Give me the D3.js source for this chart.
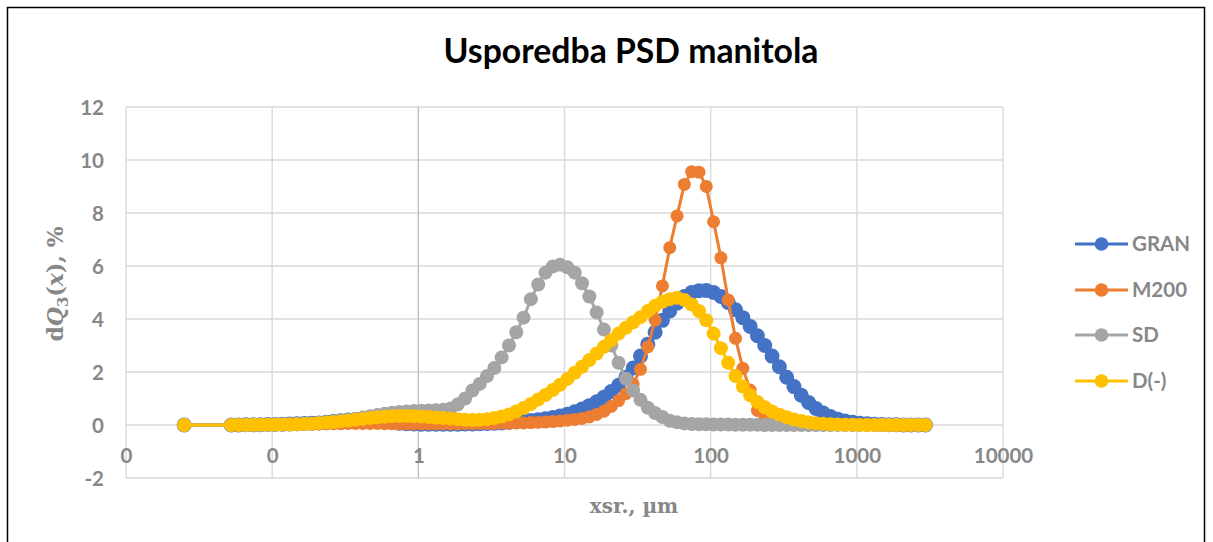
<!DOCTYPE html>
<html>
<head>
<meta charset="utf-8">
<script src="https://cdn.jsdelivr.net/npm/d3@7"></script>
<style>
  html, body { margin: 0; padding: 0; background: #fff; }
  svg { display: block; }
</style>
</head>
<body>
<svg id="chart" width="1213" height="542"></svg>
<script>
// ---------------- data ----------------
const xsr = [0.025,
  0.05248, 0.05888, 0.06607, 0.07413, 0.08318, 0.09333, 0.1047, 0.1175, 0.1318, 0.1479,
  0.1660, 0.1862, 0.2089, 0.2344, 0.2630, 0.2951, 0.3311, 0.3715, 0.4169, 0.4677,
  0.5248, 0.5888, 0.6607, 0.7413, 0.8318, 0.9333, 1.047, 1.175, 1.318, 1.479,
  1.660, 1.862, 2.089, 2.344, 2.630, 2.951, 3.311, 3.715, 4.169, 4.677,
  5.248, 5.888, 6.607, 7.413, 8.318, 9.333, 10.47, 11.75, 13.18, 14.79,
  16.60, 18.62, 20.89, 23.44, 26.30, 29.51, 33.11, 37.15, 41.69, 46.77,
  52.48, 58.88, 66.07, 74.13, 83.18, 93.33, 104.7, 117.5, 131.8, 147.9,
  166.0, 186.2, 208.9, 234.4, 263.0, 295.1, 331.1, 371.5, 416.9, 467.7,
  524.8, 588.8, 660.7, 741.3, 831.8, 933.3, 1047, 1175, 1318, 1479,
  1660, 1862, 2089, 2344, 2630, 2951];

const gran = [0,
  0, 0, 0.01, 0.01, 0.01, 0.02, 0.02, 0.03, 0.04, 0.05, 0.06, 0.07,
  0.08, 0.10, 0.13, 0.16, 0.19, 0.21, 0.22, 0.21, 0.18, 0.14, 0.10, 0.07,
  0.05, 0.04, 0.03, 0.03, 0.03, 0.03, 0.03, 0.03, 0.04, 0.04, 0.05, 0.06,
  0.07, 0.08, 0.10, 0.12, 0.14, 0.17, 0.20, 0.24, 0.28, 0.34, 0.41, 0.50,
  0.60, 0.73, 0.88, 1.05, 1.26, 1.50, 1.80, 2.15, 2.60, 3.05, 3.50, 3.95,
  4.30, 4.60, 4.85, 5.00, 5.07, 5.08, 5.00, 4.85, 4.62, 4.35, 4.05, 3.72,
  3.37, 3.00, 2.60, 2.20, 1.80, 1.45, 1.12, 0.85, 0.62, 0.45, 0.32, 0.22,
  0.15, 0.10, 0.07, 0.05, 0.03, 0.02, 0.01, 0.01, 0, 0, 0, 0];

const m200 = [0,
  0, 0, 0, 0.01, 0.01, 0.01, 0.01, 0.02, 0.02, 0.02, 0.03, 0.03,
  0.04, 0.04, 0.05, 0.05, 0.06, 0.06, 0.06, 0.06, 0.06, 0.05, 0.05, 0.04,
  0.04, 0.04, 0.04, 0.04, 0.04, 0.04, 0.04, 0.04, 0.05, 0.05, 0.05, 0.06,
  0.06, 0.07, 0.07, 0.08, 0.08, 0.09, 0.10, 0.11, 0.13, 0.15, 0.18, 0.21,
  0.25, 0.31, 0.40, 0.52, 0.70, 0.92, 1.18, 1.55, 2.10, 2.95, 3.96, 5.25,
  6.69, 7.89, 9.08, 9.56, 9.54, 9.00, 7.67, 6.31, 4.72, 3.27, 2.14, 1.32,
  0.55, 0.22, 0.08, 0.03, 0.01, 0, 0, 0, 0, 0, 0, 0,
  0, 0, 0, 0, 0, 0, 0, 0, 0, 0, 0, 0];

const sd = [0,
  0, 0, 0.01, 0.01, 0.01, 0.02, 0.02, 0.03, 0.03, 0.04, 0.05, 0.06,
  0.08, 0.10, 0.12, 0.15, 0.19, 0.23, 0.28, 0.33, 0.38, 0.42, 0.46, 0.49,
  0.51, 0.53, 0.54, 0.55, 0.56, 0.58, 0.62, 0.78, 1.00, 1.30, 1.55, 1.85,
  2.15, 2.55, 3.00, 3.50, 4.05, 4.75, 5.30, 5.75, 5.98, 6.05, 5.95, 5.75,
  5.35, 4.85, 4.25, 3.60, 3.00, 2.35, 1.75, 1.30, 0.95, 0.65, 0.45, 0.30,
  0.16, 0.10, 0.06, 0.04, 0.03, 0.03, 0.02, 0.02, 0.02, 0.01, 0.01, 0.01,
  0.01, 0, 0, 0, 0, 0, 0, 0, 0, 0, 0, 0,
  0, 0, 0, 0, 0, 0, 0, 0, 0, 0, 0, 0];

const dminus = [0,
  0, 0, 0, 0.01, 0.01, 0.01, 0.01, 0.02, 0.02, 0.03, 0.04, 0.05,
  0.07, 0.09, 0.11, 0.14, 0.17, 0.20, 0.23, 0.26, 0.29, 0.31, 0.33, 0.34,
  0.34, 0.33, 0.32, 0.30, 0.28, 0.26, 0.24, 0.22, 0.20, 0.19, 0.20, 0.22,
  0.26, 0.32, 0.40, 0.51, 0.64, 0.79, 0.96, 1.13, 1.32, 1.52, 1.74, 1.97,
  2.20, 2.45, 2.70, 2.95, 3.20, 3.45, 3.67, 3.88, 4.07, 4.30, 4.50, 4.65,
  4.75, 4.80, 4.72, 4.55, 4.30, 3.95, 3.45, 2.90, 2.35, 1.85, 1.45, 1.12,
  0.87, 0.67, 0.51, 0.39, 0.29, 0.21, 0.15, 0.10, 0.07, 0.05, 0.03, 0.02,
  0.01, 0.01, 0, 0, 0, 0, 0, 0, 0, 0, 0, 0];

const seriesNames = ["GRAN", "M200", "SD", "D(-)"];
const seriesColors = ["#4472C4", "#ED7D31", "#A5A5A5", "#FFC000"];
const seriesValues = [gran, m200, sd, dminus];

const xTickValues = [0.01, 0.1, 1, 10, 100, 1000, 10000];
const xTickLabels = ["0", "0", "1", "10", "100", "1000", "10000"];
const yTickValues = [-2, 0, 2, 4, 6, 8, 10, 12];

const titleText = "Usporedba PSD manitola";
const xTitleText = "xsr., \u00B5m";

// ---------------- drawing ----------------
const svg = d3.select("#chart");
svg.append("rect").attr("width", 1213).attr("height", 542).attr("fill", "#fff");
svg.append("rect").attr("x", 7.5).attr("y", 7.5).attr("width", 1197).attr("height", 600)
  .attr("fill", "none").attr("stroke", "#000").attr("stroke-width", 1.5);

const x = d3.scaleLog().domain([0.01, 10000]).range([126, 1003]);
const y = d3.scaleLinear().domain([-2, 12]).range([478, 107]);

const textGray = "#878787";
const gridCol = "#d9d9d9";

// grid
const grid = svg.append("g");
grid.selectAll("line.h").data(yTickValues).join("line")
  .attr("x1", x(0.01)).attr("x2", x(10000))
  .attr("y1", d => y(d)).attr("y2", d => y(d))
  .attr("stroke", gridCol).attr("stroke-width", 1.4);
grid.selectAll("line.v").data(xTickValues).join("line")
  .attr("x1", d => x(d)).attr("x2", d => x(d))
  .attr("y1", y(12)).attr("y2", y(-2))
  .attr("stroke", d => d === 1 ? "#bfbfbf" : gridCol).attr("stroke-width", 1.4);

// axes labels via d3 axes (lines hidden)
const yAxis = svg.append("g").attr("transform", "translate(104,0)")
  .call(d3.axisLeft(y).tickValues(yTickValues).tickSize(0).tickPadding(0).tickFormat(d => String(d)));
yAxis.select(".domain").remove();
yAxis.selectAll("text").attr("font-family", "Lato, 'Open Sans', sans-serif").attr("font-weight", "bold")
  .attr("font-size", 20.5).attr("fill", textGray).attr("dy", "0.35em");

const xAxis = svg.append("g").attr("transform", `translate(0,${y(0)})`)
  .call(d3.axisBottom(x).tickValues(xTickValues).tickSize(0).tickPadding(0)
    .tickFormat((d, i) => xTickLabels[i]));
xAxis.select(".domain").remove();
xAxis.selectAll("text").attr("font-family", "Lato, 'Open Sans', sans-serif").attr("font-weight", "bold")
  .attr("font-size", 20.5).attr("fill", textGray).attr("dy", null).attr("y", 38);

// title
const title = svg.append("text").attr("x", 631).attr("y", 63).attr("text-anchor", "middle")
  .attr("font-family", "Lato, 'Open Sans', sans-serif").attr("font-weight", "bold")
  .attr("font-size", 33).attr("fill", "#000").text(titleText);
(function fit(t, w) {
  const len = t.node().getComputedTextLength();
  const fs = +t.attr("font-size");
  t.attr("font-size", fs * w / len);
})(title, 375);

// y axis title
const yt = svg.append("text").attr("transform", "translate(63,284) rotate(-90)")
  .attr("text-anchor", "middle").attr("font-family", "'DejaVu Serif', serif")
  .attr("font-weight", "bold").attr("font-size", 22).attr("fill", textGray);
yt.append("tspan").text("d");
yt.append("tspan").attr("font-style", "italic").text("Q");
yt.append("tspan").attr("font-size", 15).attr("dy", 5).text("3");
yt.append("tspan").attr("dy", -5).text("(");
yt.append("tspan").attr("font-style", "italic").text("x");
yt.append("tspan").text("), %");

// x axis title
svg.append("text").attr("x", 634).attr("y", 513).attr("text-anchor", "middle")
  .attr("font-family", "'DejaVu Serif', serif").attr("font-weight", "bold")
  .attr("font-size", 20).attr("fill", textGray).text(xTitleText);

// series
const radii = [7.5, 6.5, 7, 7];
const plot = svg.append("g");
seriesValues.forEach((vals, si) => {
  const pts = xsr.map((xv, i) => [xv, vals[i]]);
  const line = d3.line().x(d => x(d[0])).y(d => y(d[1]));
  const g = plot.append("g");
  g.append("path").datum(pts).attr("d", line).attr("fill", "none")
    .attr("stroke", seriesColors[si]).attr("stroke-width", 3).attr("stroke-linejoin", "round");
  g.selectAll("circle").data(pts).join("circle")
    .attr("cx", d => x(d[0])).attr("cy", d => y(d[1])).attr("r", radii[si])
    .attr("fill", seriesColors[si]);
});

// legend
const legendY = [244, 290, 335, 381];
const lg = svg.append("g");
seriesNames.forEach((name, i) => {
  const gy = legendY[i];
  lg.append("line").attr("x1", 1075).attr("x2", 1128).attr("y1", gy).attr("y2", gy)
    .attr("stroke", seriesColors[i]).attr("stroke-width", 3);
  lg.append("circle").attr("cx", 1101.5).attr("cy", gy).attr("r", 6.8).attr("fill", seriesColors[i]);
  lg.append("text").attr("x", 1132).attr("y", gy).attr("dy", "0.35em")
    .attr("font-family", "Lato, 'Open Sans', sans-serif").attr("font-weight", "bold")
    .attr("font-size", 20.5).attr("fill", textGray).text(name);
});
</script>
</body>
</html>
